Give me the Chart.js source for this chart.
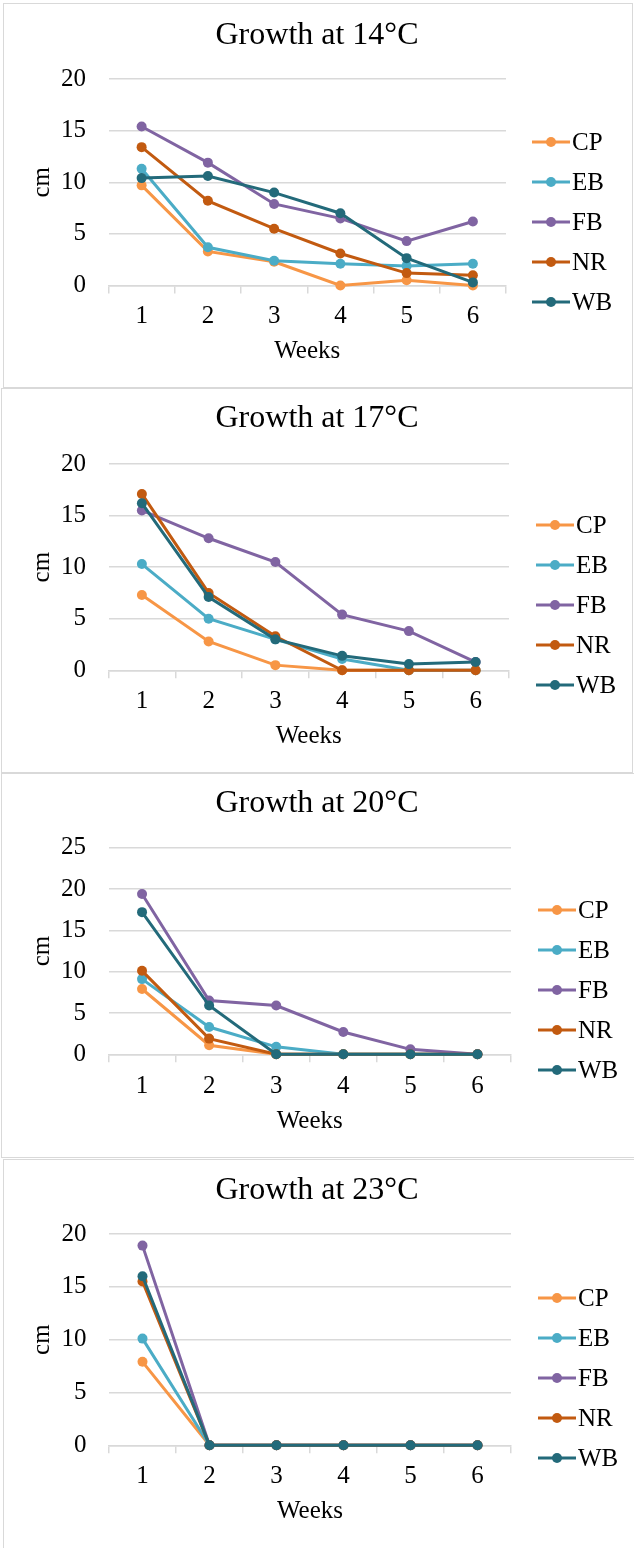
<!DOCTYPE html>
<html>
<head>
<meta charset="utf-8">
<script src="https://cdn.jsdelivr.net/npm/chart.js@4.4.1/dist/chart.umd.min.js"></script>
<style>
  html, body { margin: 0; padding: 0; background: #fff; }
  body { position: relative; width: 634px; height: 1548px; overflow: hidden; }
  .frame { position: absolute; border: 1.5px solid #d9d9d9; box-sizing: border-box; }
  canvas { position: absolute; left: 0; }
</style>
</head>
<body>
<div class="frame" style="left:3px;top:3px;width:630px;height:385px"></div>
<div class="frame" style="left:1px;top:388px;width:632px;height:385px"></div>
<div class="frame" style="left:1px;top:773px;width:640px;height:385px"></div>
<div class="frame" style="left:3px;top:1159px;width:640px;height:400px"></div>
<canvas id="c14" style="top:0px"></canvas>
<canvas id="c17" style="top:387px"></canvas>
<canvas id="c20" style="top:772px"></canvas>
<canvas id="c23" style="top:1158px"></canvas>
<script>
// data
const weeks = ['1', '2', '3', '4', '5', '6'];
const seriesNames = ['CP', 'EB', 'FB', 'NR', 'WB'];
const chartTitles = ['Growth at 14°C', 'Growth at 17°C', 'Growth at 20°C', 'Growth at 23°C'];
const yMaxes = [20, 20, 25, 20];
const yStep = 5;

const cp14 = [9.7, 3.3, 2.3, 0, 0.5, 0];
const eb14 = [11.3, 3.7, 2.4, 2.1, 1.9, 2.1];
const fb14 = [15.4, 11.9, 7.9, 6.5, 4.3, 6.2];
const nr14 = [13.4, 8.2, 5.5, 3.1, 1.2, 1.0];
const wb14 = [10.4, 10.6, 9.0, 7.0, 2.65, 0.3];

const cp17 = [7.3, 2.8, 0.5, 0, 0, 0];
const eb17 = [10.3, 5.0, 3.0, 1.1, 0, 0];
const fb17 = [15.5, 12.8, 10.5, 5.4, 3.8, 0.8];
const nr17 = [17.1, 7.5, 3.3, 0, 0, 0];
const wb17 = [16.2, 7.1, 3.0, 1.4, 0.6, 0.8];

const cp20 = [7.9, 1.1, 0, 0, 0, 0];
const eb20 = [9.1, 3.3, 0.9, 0, 0, 0];
const fb20 = [19.4, 6.5, 5.9, 2.7, 0.6, 0];
const nr20 = [10.1, 1.9, 0, 0, 0, 0];
const wb20 = [17.2, 5.9, 0, 0, 0, 0];

const cp23 = [7.9, 0, 0, 0, 0, 0];
const eb23 = [10.1, 0, 0, 0, 0, 0];
const fb23 = [18.9, 0, 0, 0, 0, 0];
const nr23 = [15.5, 0, 0, 0, 0, 0];
const wb23 = [16.0, 0, 0, 0, 0, 0];

const panelSeries = [
    [cp14, eb14, fb14, nr14, wb14],
    [cp17, eb17, fb17, nr17, wb17],
    [cp20, eb20, fb20, nr20, wb20],
    [cp23, eb23, fb23, nr23, wb23]
];

// styling / geometry
const seriesColors = ['#F79646', '#4BACC6', '#8064A2', '#C25A10', '#236A7A'];
const canvasIds = ['c14', 'c17', 'c20', 'c23'];
const panels = [
    { h: 387, top: 79,   xh: 101.5, right: 128, yw: 108.5, tickPad: 8.1, weeksPad: 20.4, titleY: 36, legX: 532, legY: 142 },
    { h: 385, top: 77,   xh: 101.7, right: 125, yw: 108.5, tickPad: 8.3, weeksPad: 20.4, titleY: 32, legX: 536, legY: 138 },
    { h: 386, top: 75.7, xh: 103.7, right: 123, yw: 108.5, tickPad: 9.3, weeksPad: 22,   titleY: 32, legX: 538, legY: 138 },
    { h: 390, top: 76,   xh: 102.7, right: 123, yw: 109,   tickPad: 8.3, weeksPad: 21.4, titleY: 33, legX: 538, legY: 140 }
];

const FONT = "'Liberation Serif', 'Times New Roman', serif";
const GRID = '#d9d9d9';

Chart.defaults.font.family = FONT;
Chart.defaults.color = '#000';

const titleLegendPlugin = {
    id: 'titleLegend',
    afterDraw(chart, args, opts) {
        const ctx = chart.ctx;
        ctx.save();
        ctx.fillStyle = '#000';
        ctx.textBaseline = 'middle';
        ctx.textAlign = 'center';
        ctx.font = '32px ' + FONT;
        ctx.fillText(opts.title, chart.width / 2, opts.titleY);

        ctx.font = '25px ' + FONT;
        ctx.textAlign = 'left';
        chart.data.datasets.forEach((ds, i) => {
            const y = opts.legY + i * 40;
            ctx.strokeStyle = ds.borderColor;
            ctx.lineWidth = 3;
            ctx.beginPath();
            ctx.moveTo(opts.legX, y);
            ctx.lineTo(opts.legX + 38, y);
            ctx.stroke();
            ctx.fillStyle = ds.borderColor;
            ctx.beginPath();
            ctx.arc(opts.legX + 19, y, 5, 0, Math.PI * 2);
            ctx.fill();
            ctx.fillStyle = '#000';
            ctx.fillText(ds.label, opts.legX + 40, y + 1);
        });
        ctx.restore();
    }
};

panels.forEach((p, k) => {
    const canvas = document.getElementById(canvasIds[k]);
    canvas.width = 634;
    canvas.height = p.h;
    canvas.style.width = '634px';
    canvas.style.height = p.h + 'px';

    const datasets = seriesNames.map((name, i) => ({
        label: name,
        data: panelSeries[k][i],
        borderColor: seriesColors[i],
        backgroundColor: seriesColors[i],
        borderWidth: 3,
        pointRadius: 5,
        pointBorderWidth: 0,
        pointBackgroundColor: seriesColors[i],
        tension: 0,
        clip: false,
        order: seriesNames.length - i
    }));

    new Chart(canvas.getContext('2d'), {
        type: 'line',
        data: { labels: weeks, datasets: datasets },
        plugins: [titleLegendPlugin],
        options: {
            responsive: false,
            animation: false,
            events: [],
            layout: { padding: { top: p.top, right: p.right, bottom: 0, left: 0 } },
            plugins: {
                legend: { display: false },
                title: { display: false },
                tooltip: { enabled: false },
                titleLegend: { title: chartTitles[k], titleY: p.titleY, legX: p.legX, legY: p.legY }
            },
            scales: {
                x: {
                    offset: true,
                    grid: { display: true, drawOnChartArea: false, drawTicks: true, tickLength: 8, color: GRID, lineWidth: 1.5, offset: true },
                    border: { display: true, color: GRID, width: 1.5 },
                    ticks: { font: { size: 25 }, color: '#000', padding: p.tickPad, maxRotation: 0 },
                    title: { display: true, text: 'Weeks', font: { size: 25 }, color: '#000', padding: { top: 0, bottom: p.weeksPad } },
                    afterFit(scale) {
                        scale.height = p.xh;
                        scale.paddingLeft = 0; scale.paddingRight = 0;
                    }
                },
                y: {
                    min: 0,
                    max: yMaxes[k],
                    ticks: { stepSize: yStep, font: { size: 25 }, color: '#000', padding: 22.5 },
                    grid: { color: GRID, lineWidth: 1.5, drawTicks: false },
                    border: { display: false },
                    title: { display: true, text: 'cm', font: { size: 25 }, color: '#000', padding: { top: 27, bottom: 0 } },
                    afterFit(scale) {
                        scale.width = p.yw;
                        scale.paddingTop = 0; scale.paddingBottom = 0;
                    }
                }
            }
        }
    });
});
</script>
</body>
</html>
